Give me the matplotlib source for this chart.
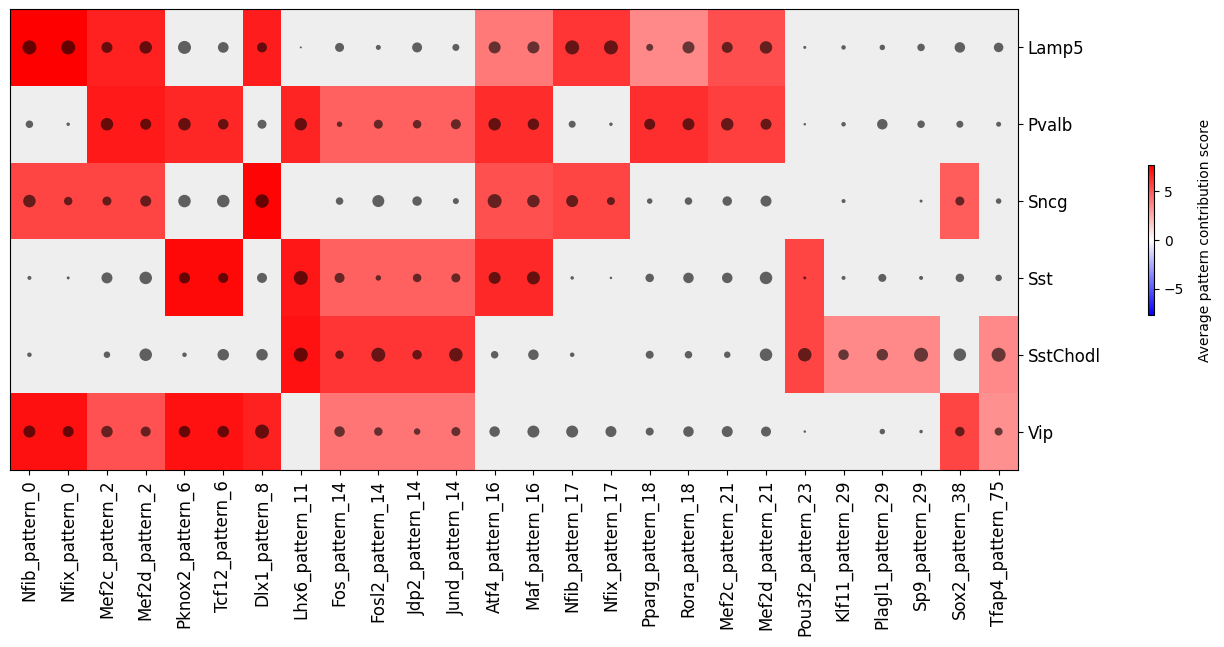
import numpy as np
import matplotlib
matplotlib.use("Agg")
import matplotlib.pyplot as plt

nan = np.nan

patterns = ["Nfib_pattern_0", "Nfix_pattern_0", "Mef2c_pattern_2", "Mef2d_pattern_2",
            "Pknox2_pattern_6", "Tcf12_pattern_6", "Dlx1_pattern_8", "Lhx6_pattern_11",
            "Fos_pattern_14", "Fosl2_pattern_14", "Jdp2_pattern_14", "Jund_pattern_14",
            "Atf4_pattern_16", "Maf_pattern_16", "Nfib_pattern_17", "Nfix_pattern_17",
            "Pparg_pattern_18", "Rora_pattern_18", "Mef2c_pattern_21", "Mef2d_pattern_21",
            "Pou3f2_pattern_23", "Klf11_pattern_29", "Plagl1_pattern_29", "Sp9_pattern_29",
            "Sox2_pattern_38", "Tfap4_pattern_75"]
cell_types = ["Lamp5", "Pvalb", "Sncg", "Sst", "SstChodl", "Vip"]

# pattern contribution score (NaN = not significant, drawn grey)
score_lamp5 = [7.7, 7.7, 6.7, 6.7, nan, nan, 6.8, nan, nan, nan, nan, nan, 4.0, 4.0,
               6.1, 6.1, 3.6, 3.6, 5.3, 5.3, nan, nan, nan, nan, nan, nan]
score_pvalb = [nan, nan, 6.9, 6.9, 6.55, 6.55, nan, 6.6, 4.8, 4.8, 4.8, 4.8, 6.35, 6.35,
               nan, nan, 6.3, 6.3, 5.8, 5.8, nan, nan, nan, nan, nan, nan]
score_sncg = [5.6, 5.6, 5.65, 5.65, nan, nan, 7.55, nan, nan, nan, nan, nan, 5.25, 5.25,
              5.6, 5.6, nan, nan, nan, nan, nan, nan, nan, nan, 4.9, nan]
score_sst = [nan, nan, nan, nan, 7.4, 7.4, nan, 7.0, 4.75, 4.75, 4.75, 4.75, 6.45, 6.45,
             nan, nan, nan, nan, nan, nan, 5.6, nan, nan, nan, nan, nan]
score_sstchodl = [nan, nan, nan, nan, nan, nan, nan, 7.1, 6.1, 6.1, 6.1, 6.1, nan, nan,
                  nan, nan, nan, nan, nan, nan, 5.6, 3.6, 3.6, 3.6, nan, 3.6]
score_vip = [7.2, 7.2, 5.2, 5.2, 7.1, 7.1, 6.7, nan, 4.2, 4.2, 4.2, 4.2, nan, nan,
             nan, nan, nan, nan, nan, nan, nan, nan, nan, nan, 5.6, 3.35]

# dot size (approx. diameter), 0 = no dot
dot_lamp5 = [14, 14, 11, 12.5, 13, 10.7, 10, 2, 9, 5, 10, 7, 12, 12,
             14, 14, 7, 12, 11, 12.5, 3, 4.5, 5.5, 7.5, 10.5, 9.5]
dot_pvalb = [7.5, 3.5, 12.5, 11, 12.5, 10.5, 9, 12.5, 5.5, 9, 8.5, 10, 12.5, 11.5,
             7, 3.5, 11, 12, 12.5, 11, 2.5, 4.5, 10.5, 7.5, 7, 5]
dot_sncg = [12.5, 8.5, 9, 11, 12.5, 12.5, 13.5, 0, 7.5, 12, 9.5, 6, 14, 12.5,
            12, 8, 5.5, 7.5, 9.5, 11, 0, 4, 0, 3, 9, 5.5]
dot_sst = [4, 3, 11, 12.5, 11, 10, 10, 14, 10, 5.5, 8.5, 9, 12, 13,
           3.5, 2.5, 8.5, 10.5, 10.5, 12.5, 3, 4, 8, 4, 8.5, 6.5]
dot_sstchodl = [4.5, 0, 6.5, 12.5, 4.5, 11.5, 11.5, 14, 8.5, 14, 9.5, 13.5, 7.5, 10.5,
                4.5, 0, 8, 7.5, 6.5, 12.5, 13.5, 10.5, 11.5, 14, 12.5, 14]
dot_vip = [12, 11, 11.5, 10, 11.5, 11.5, 14, 0, 10.5, 8.5, 6.5, 9, 10.5, 12,
           12, 11, 8, 10.5, 11, 10, 2.5, 0, 5.5, 3.5, 9.5, 8]

scores = np.array([score_lamp5, score_pvalb, score_sncg, score_sst, score_sstchodl, score_vip])
dots = np.array([dot_lamp5, dot_pvalb, dot_sncg, dot_sst, dot_sstchodl, dot_vip])

fig = plt.figure(figsize=(12.24, 6.47), dpi=100)
ax = fig.add_axes([0.0082, 0.2736, 0.8235, 0.7125])
ax.set_facecolor("#eeeeee")

vmax = 7.7
im = ax.imshow(scores, cmap="bwr", vmin=-vmax, vmax=vmax, aspect="auto",
               interpolation="nearest")

xx, yy = np.meshgrid(np.arange(len(patterns)), np.arange(len(cell_types)))
sizes = (dots * 0.72) ** 2
mask = dots > 0
ax.scatter(xx[mask], yy[mask], s=sizes[mask], c="k", alpha=0.6, linewidths=0, zorder=3)

ax.set_xlim(-0.5, len(patterns) - 0.5)
ax.set_ylim(len(cell_types) - 0.5, -0.5)
ax.set_xticks(np.arange(len(patterns)))
ax.set_xticklabels(patterns, rotation=90, fontsize=12)
ax.set_yticks(np.arange(len(cell_types)))
ax.set_yticklabels(cell_types, fontsize=12)
ax.yaxis.tick_right()

cax = fig.add_axes([0.938, 0.513, 0.005, 0.232])
cb = fig.colorbar(im, cax=cax)
cb.set_label("Average pattern contribution score", fontsize=10, labelpad=10)
cb.set_ticks([-5, 0, 5])
cb.ax.tick_params(labelsize=10)

fig.savefig("out.png", dpi=100)
